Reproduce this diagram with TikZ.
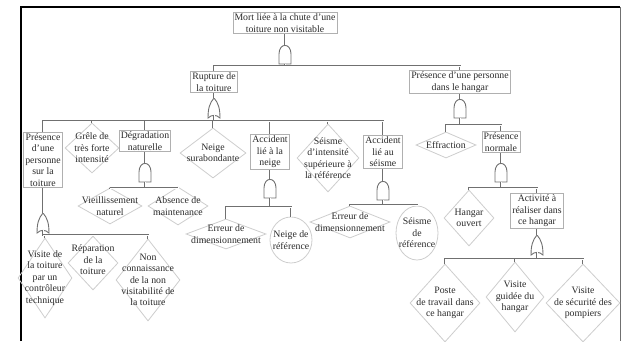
\documentclass[tikz,border=0pt]{standalone}
\usepackage{fontspec}
\setmainfont{Liberation Serif}
\usepackage{tikz}
\usetikzlibrary{shapes.geometric}
\definecolor{wiregray}{HTML}{707070}
\definecolor{boxgray}{HTML}{B0B0B0}
\definecolor{diagray}{HTML}{CDCDCD}
\definecolor{textgray}{HTML}{2A2A2A}

\tikzset{
    andgate/.pic={
        \draw[gateline] (-6,10) -- (-6,0) .. controls (-6,-11.5) and (6,-11.5) .. (6,0) -- (6,10) -- cycle;
        \coordinate (-top) at (0,-8.6);
        \coordinate (-bot) at (0,10);
    },
    orgate/.pic={
        \draw[gateline] (-6,10) .. controls (-2.5,6.5) and (2.5,6.5) .. (6,10)
            .. controls (6,1) and (4.5,-5) .. (0,-10)
            .. controls (-4.5,-5) and (-6,1) .. (-6,10) -- cycle;
        \coordinate (-top) at (0,-10);
        \coordinate (-bot) at (0,7.4);
    }
}

\begin{document}
\begin{tikzpicture}[
    x=1pt, y=-1pt,
    event/.style={rectangle, draw=boxgray, fill=white, line width=0.8pt, align=center,
                  inner sep=1.6pt, font=\fontsize{9.8}{11.4}\selectfont, text=textgray},
    basic/.style={diamond, draw=diagray, line width=0.8pt, inner sep=0pt},
    round/.style={ellipse, draw=diagray, line width=0.8pt, inner sep=0pt},
    lbl/.style={align=center, inner sep=0pt, font=\fontsize{9.8}{11.4}\selectfont, text=textgray},
    gateline/.style={draw=wiregray, fill=white, line width=0.9pt},
    wire/.style={draw=wiregray, line width=0.7pt, double=white, double distance=0.8pt}
]
    \useasboundingbox (0,0) rectangle (621,341);
    % frame
    \draw[line width=1.6pt] (21,341) -- (21,7) -- (620,7);
    \draw[wiregray, line width=1pt] (620,7) -- (620,341);

    % Top event
    \node[event] (mort) at (285,23) {Mort liée à la chute d'une\\toiture non visitable};
    \pic (g0) at (285,54) {andgate};
    \coordinate (b0) at (285,66);
    \node[event] (rup) at (214,82) {Rupture de\\la toiture};
    \node[event] (hang) at (460,82) {Présence d'une personne\\dans le hangar};
    \draw[wire] (mort.south) -- (g0-top);
    \draw[wire] (g0-bot) -- (b0) -| (rup.north);
    \draw[wire] (b0) -| (hang.north);

    % Rupture de la toiture
    \pic (g1) at (214,108) {orgate};
    \coordinate (b1) at (214,121);
    \node[event] (ptoit) at (43,160) {Présence\\d'une\\personne\\sur la\\toiture};
    \node[basic, minimum width=54, minimum height=50] (grele) at (92,148) {};
    \node[lbl] (grele-t) at (grele.center) {Grêle de\\très forte\\intensité};
    \node[event] (degr) at (145,141) {Dégradation\\naturelle};
    \node[basic, minimum width=66, minimum height=50] (neige) at (213,153) {};
    \node[lbl] (neige-t) at (neige.center) {Neige\\surabondante};
    \node[event] (accn) at (270,152) {Accident\\lié à la\\neige};
    \node[basic, minimum width=62, minimum height=68] (seis) at (328,158) {};
    \node[lbl] (seis-t) at (seis.center) {Séisme\\d'intensité\\supérieure à\\la référence};
    \node[event] (accs) at (383,152) {Accident\\lié au\\séisme};
    \draw[wire] (rup.south) -- (g1-top);
    \draw[wire] (g1-bot) -- (b1) -| (ptoit.north);
    \draw[wire] (b1) -| (grele.north);
    \draw[wire] (b1) -| (degr.north);
    \draw[wire] (b1) -| (neige.north);
    \draw[wire] (b1) -| (accn.north);
    \draw[wire] (b1) -| (seis.north);
    \draw[wire] (b1) -| (accs.north);

    % Presence sur la toiture
    \pic (g2) at (43,223) {orgate};
    \coordinate (b2) at (43,235);
    \node[basic, minimum width=54, minimum height=80] (visit) at (45,278) {};
    \node[lbl] (visit-t) at (visit.center) {Visite de\\la toiture\\par un\\contrôleur\\technique};
    \node[basic, minimum width=50, minimum height=54] (repa) at (93,263) {};
    \node[lbl] (repa-t) at ([yshift=3pt]repa.center) {Réparation\\de la\\toiture};
    \node[basic, minimum width=64, minimum height=82] (nonc) at (148,280) {};
    \node[lbl] (nonc-t) at (nonc.center) {Non\\connaissance\\de la non\\visitabilité de\\la toiture};
    \draw[wire] (ptoit.south) -- (g2-top);
    \draw[wire] (g2-bot) -- (b2) -| (visit.north);
    \draw[wire] (b2) -| (repa.north);
    \draw[wire] (b2) -| (nonc.north);

    % Degradation naturelle
    \pic (g3) at (145,172) {andgate};
    \coordinate (b3) at (145,188);
    \node[basic, minimum width=64, minimum height=36] (vieil) at (110,206) {};
    \node[lbl] (vieil-t) at (vieil.center) {Vieillissement\\naturel};
    \node[basic, minimum width=60, minimum height=38] (absm) at (178,206) {};
    \node[lbl] (absm-t) at (absm.center) {Absence de\\maintenance};
    \draw[wire] (degr.south) -- (g3-top);
    \draw[wire] (g3-bot) -- (b3) -| (vieil.north);
    \draw[wire] (b3) -| (absm.north);

    % Accident lie a la neige
    \pic (g4) at (270,188) {andgate};
    \coordinate (b4) at (270,207);
    \node[basic, minimum width=80, minimum height=30] (err1) at (226,234) {};
    \node[lbl] (err1-t) at (err1.center) {Erreur de\\dimensionnement};
    \node[round, minimum width=42, minimum height=46] (nref) at (291,240) {};
    \node[lbl] (nref-t) at (nref.center) {Neige de\\référence};
    \draw[wire] (accn.south) -- (g4-top);
    \draw[wire] (g4-bot) -- (b4) -| (err1.north);
    \draw[wire] (b4) -| (nref.north);

    % Accident lie au seisme
    \pic (g5) at (383,190) {andgate};
    \coordinate (b5) at (383,205);
    \node[basic, minimum width=80, minimum height=32] (err2) at (350,222) {};
    \node[lbl] (err2-t) at (err2.center) {Erreur de\\dimensionnement};
    \node[round, minimum width=42, minimum height=54] (sref) at (417,233) {};
    \node[lbl] (sref-t) at (sref.center) {Séisme\\de\\référence};
    \draw[wire] (accs.south) -- (g5-top);
    \draw[wire] (g5-bot) -- (b5) -| (err2.north);
    \draw[wire] (b5) -| (sref.north);

    % Presence dans le hangar
    \pic (g6) at (460,108) {andgate};
    \coordinate (b6) at (460,125);
    \node[basic, minimum width=60, minimum height=26] (effr) at (446,145) {};
    \node[lbl] (effr-t) at (effr.center) {Effraction};
    \node[event] (pnorm) at (501,142) {Présence\\normale};
    \draw[wire] (hang.south) -- (g6-top);
    \draw[wire] (g6-bot) -- (b6) -| (effr.north);
    \draw[wire] (b6) -| (pnorm.north);

    % Presence normale
    \pic (g7) at (501,172) {andgate};
    \coordinate (b7) at (501,188);
    \node[basic, minimum width=50, minimum height=56] (houv) at (469,218) {};
    \node[lbl] (houv-t) at (houv.center) {Hangar\\ouvert};
    \node[event] (activ) at (537,211) {Activité à\\réaliser dans\\ce hangar};
    \draw[wire] (pnorm.south) -- (g7-top);
    \draw[wire] (g7-bot) -- (b7) -| (houv.north);
    \draw[wire] (b7) -| (activ.north);

    % Activite a realiser
    \pic (g8) at (537,245) {orgate};
    \coordinate (b8) at (537,259);
    \node[basic, minimum width=70, minimum height=78] (poste) at (445,303) {};
    \node[lbl] (poste-t) at (poste.center) {Poste\\de travail dans\\ce hangar};
    \node[basic, minimum width=58, minimum height=70] (vguid) at (515,297) {};
    \node[lbl] (vguid-t) at (vguid.center) {Visite\\guidée du\\hangar};
    \node[basic, minimum width=74, minimum height=78] (vsecu) at (583,303) {};
    \node[lbl] (vsecu-t) at (vsecu.center) {Visite\\de sécurité des\\pompiers};
    \draw[wire] (activ.south) -- (g8-top);
    \draw[wire] (g8-bot) -- (b8) -| (poste.north);
    \draw[wire] (b8) -| (vguid.north);
    \draw[wire] (b8) -| (vsecu.north);
\end{tikzpicture}
\end{document}
